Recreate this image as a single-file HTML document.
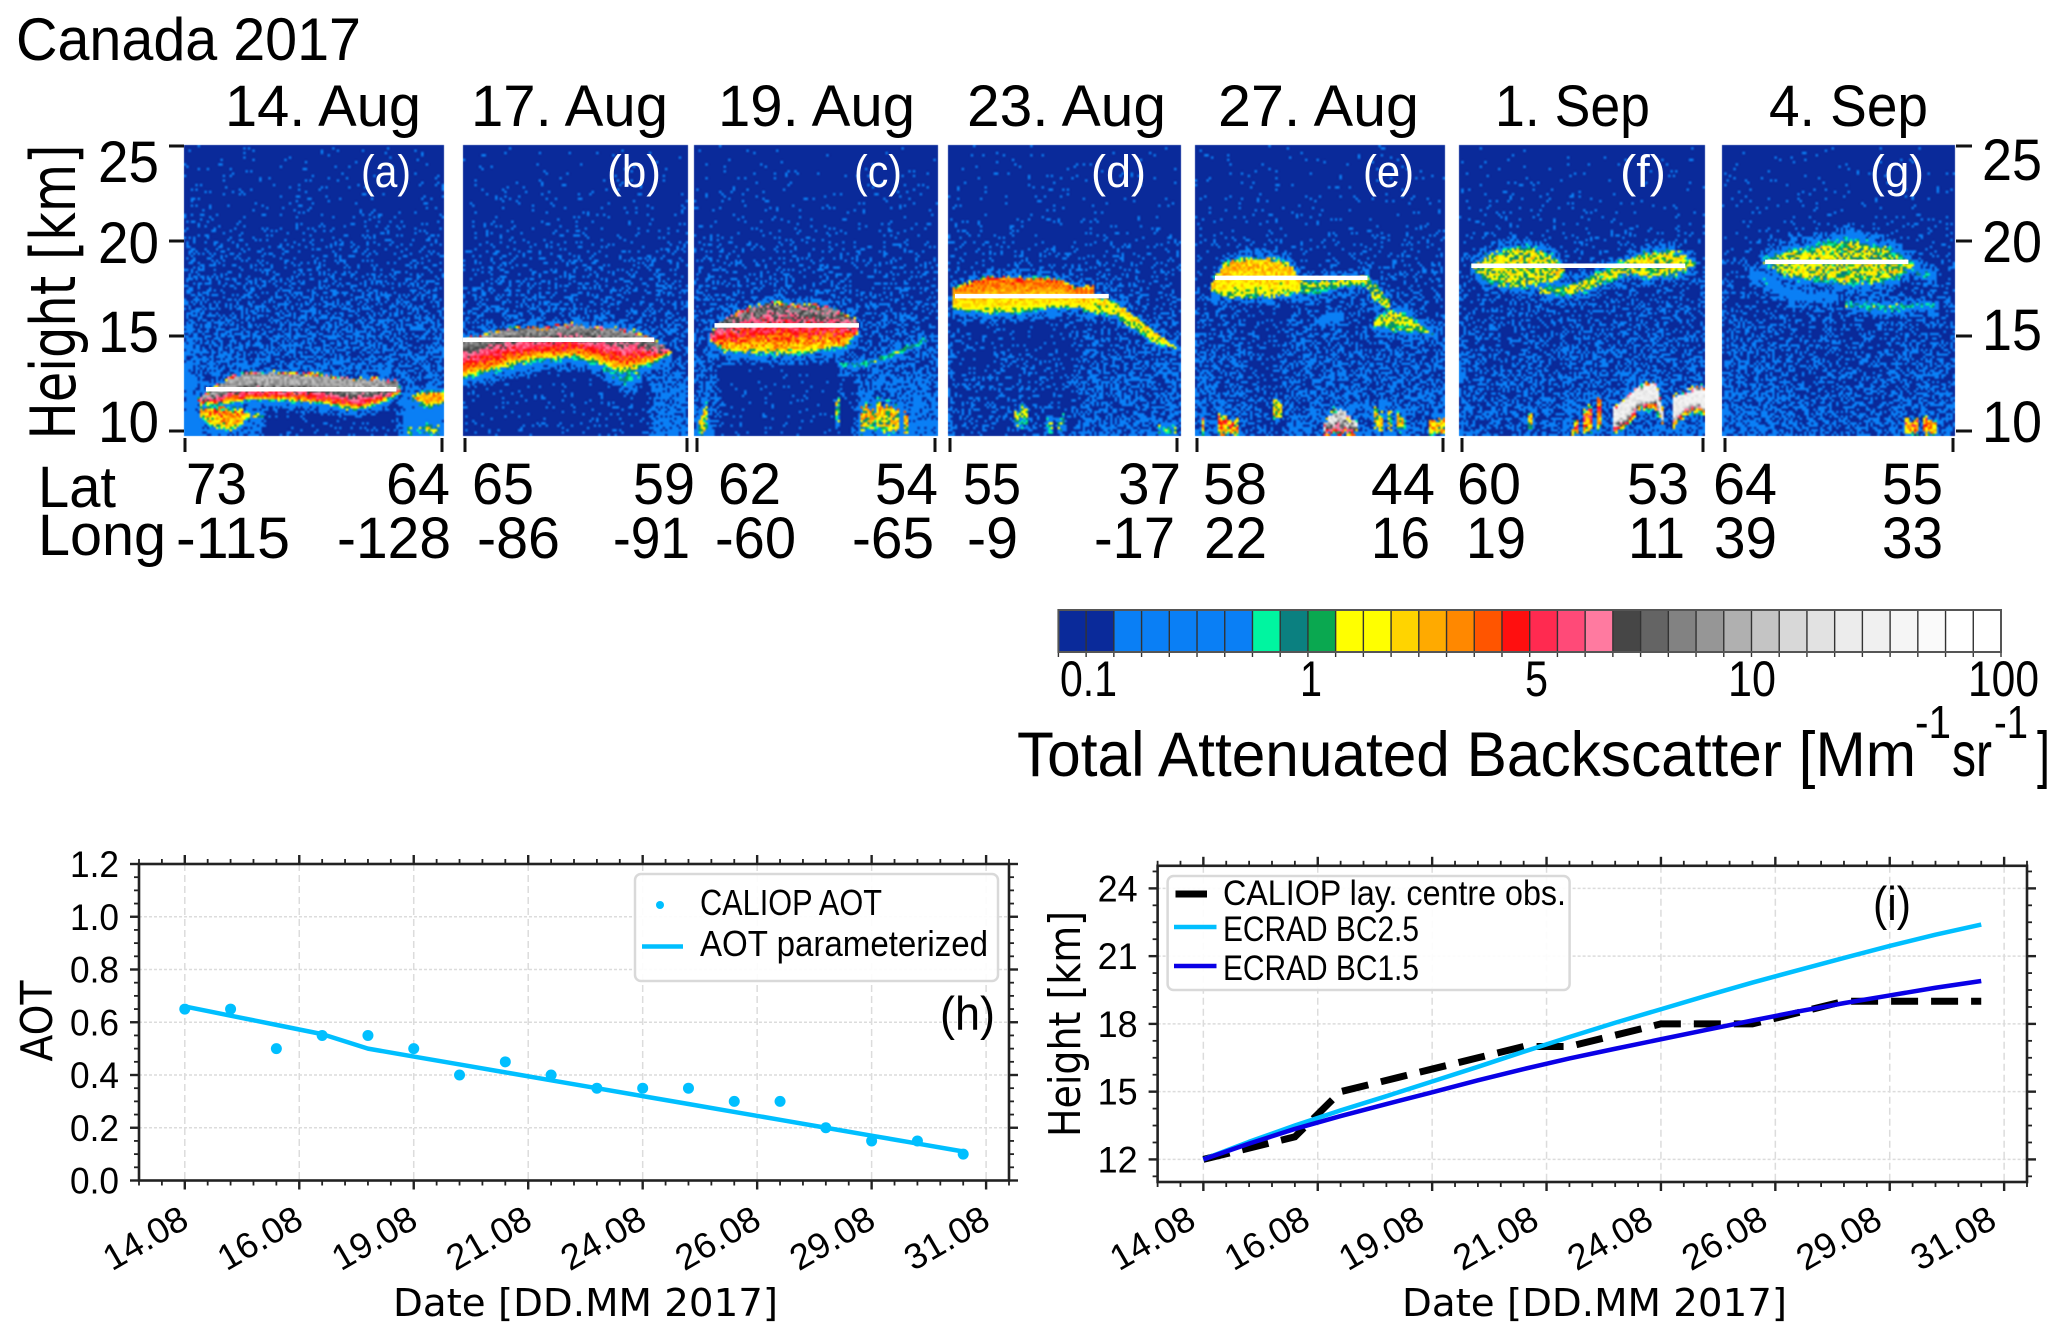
<!DOCTYPE html>
<html lang="en">
<head>
<meta charset="utf-8">
<title>Canada 2017 CALIOP backscatter</title>
<style>
html,body{margin:0;padding:0;background:#fff}
#page{position:relative;width:2067px;height:1341px;overflow:hidden;background:#fff}
#curtains,#overlay{position:absolute;left:0;top:0;width:2067px;height:1341px}
text{fill:#000;font-family:"Liberation Sans",sans-serif}
.dv{font-family:"DejaVu Sans",sans-serif}
</style>
</head>
<body>
<div id="page">
<canvas id="curtains" width="2067" height="1341"></canvas>
<svg id="overlay" width="2067" height="1341" viewBox="0 0 2067 1341" xmlns="http://www.w3.org/2000/svg">
  <g id="top-text">
    <text x="16" y="60" font-size="60" textLength="345" lengthAdjust="spacingAndGlyphs">Canada 2017</text>
    <text x="225" y="126" font-size="58" textLength="196" lengthAdjust="spacingAndGlyphs">14. Aug</text>
    <text x="471" y="126" font-size="58" textLength="197" lengthAdjust="spacingAndGlyphs">17. Aug</text>
    <text x="718" y="126" font-size="58" textLength="197" lengthAdjust="spacingAndGlyphs">19. Aug</text>
    <text x="967" y="126" font-size="58" textLength="199" lengthAdjust="spacingAndGlyphs">23. Aug</text>
    <text x="1218" y="126" font-size="58" textLength="201" lengthAdjust="spacingAndGlyphs">27. Aug</text>
    <text x="1495" y="126" font-size="58" textLength="155" lengthAdjust="spacingAndGlyphs">1. Sep</text>
    <text x="1769" y="126" font-size="58" textLength="159" lengthAdjust="spacingAndGlyphs">4. Sep</text>

    <text class="dv" transform="translate(75,292) rotate(-90)" text-anchor="middle" font-size="62" textLength="295" lengthAdjust="spacingAndGlyphs">Height [km]</text>

    <text x="98" y="182" font-size="58" textLength="61" lengthAdjust="spacingAndGlyphs">25</text>
    <text x="98" y="263" font-size="58" textLength="61" lengthAdjust="spacingAndGlyphs">20</text>
    <text x="98" y="352" font-size="58" textLength="61" lengthAdjust="spacingAndGlyphs">15</text>
    <text x="98" y="442" font-size="58" textLength="61" lengthAdjust="spacingAndGlyphs">10</text>
    <text x="1982" y="180" font-size="58" textLength="60" lengthAdjust="spacingAndGlyphs">25</text>
    <text x="1982" y="262" font-size="58" textLength="60" lengthAdjust="spacingAndGlyphs">20</text>
    <text x="1982" y="350" font-size="58" textLength="60" lengthAdjust="spacingAndGlyphs">15</text>
    <text x="1982" y="442" font-size="58" textLength="60" lengthAdjust="spacingAndGlyphs">10</text>

    <text x="38" y="507" font-size="58" textLength="78" lengthAdjust="spacingAndGlyphs">Lat</text>
    <text x="38" y="555" font-size="58" textLength="128" lengthAdjust="spacingAndGlyphs">Long</text>

    <g font-size="58">
      <text x="186" y="504" textLength="61" lengthAdjust="spacingAndGlyphs">73</text>
      <text x="386" y="504" textLength="64" lengthAdjust="spacingAndGlyphs">64</text>
      <text x="472" y="504" textLength="62" lengthAdjust="spacingAndGlyphs">65</text>
      <text x="633" y="504" textLength="62" lengthAdjust="spacingAndGlyphs">59</text>
      <text x="718" y="504" textLength="63" lengthAdjust="spacingAndGlyphs">62</text>
      <text x="875" y="504" textLength="63" lengthAdjust="spacingAndGlyphs">54</text>
      <text x="963" y="504" textLength="58" lengthAdjust="spacingAndGlyphs">55</text>
      <text x="1118" y="504" textLength="63" lengthAdjust="spacingAndGlyphs">37</text>
      <text x="1203" y="504" textLength="64" lengthAdjust="spacingAndGlyphs">58</text>
      <text x="1371" y="504" textLength="64" lengthAdjust="spacingAndGlyphs">44</text>
      <text x="1457" y="504" textLength="64" lengthAdjust="spacingAndGlyphs">60</text>
      <text x="1627" y="504" textLength="62" lengthAdjust="spacingAndGlyphs">53</text>
      <text x="1713" y="504" textLength="64" lengthAdjust="spacingAndGlyphs">64</text>
      <text x="1882" y="504" textLength="61" lengthAdjust="spacingAndGlyphs">55</text>
    </g>
    <g font-size="58">
      <text x="176" y="558" textLength="114" lengthAdjust="spacingAndGlyphs">-115</text>
      <text x="337" y="558" textLength="114" lengthAdjust="spacingAndGlyphs">-128</text>
      <text x="477" y="558" textLength="83" lengthAdjust="spacingAndGlyphs">-86</text>
      <text x="613" y="558" textLength="77" lengthAdjust="spacingAndGlyphs">-91</text>
      <text x="715" y="558" textLength="81" lengthAdjust="spacingAndGlyphs">-60</text>
      <text x="852" y="558" textLength="82" lengthAdjust="spacingAndGlyphs">-65</text>
      <text x="967" y="558" textLength="51" lengthAdjust="spacingAndGlyphs">-9</text>
      <text x="1094" y="558" textLength="81" lengthAdjust="spacingAndGlyphs">-17</text>
      <text x="1204" y="558" textLength="63" lengthAdjust="spacingAndGlyphs">22</text>
      <text x="1371" y="558" textLength="59" lengthAdjust="spacingAndGlyphs">16</text>
      <text x="1466" y="558" textLength="60" lengthAdjust="spacingAndGlyphs">19</text>
      <text x="1628" y="558" textLength="57" lengthAdjust="spacingAndGlyphs">11</text>
      <text x="1714" y="558" textLength="63" lengthAdjust="spacingAndGlyphs">39</text>
      <text x="1882" y="558" textLength="61" lengthAdjust="spacingAndGlyphs">33</text>
    </g>

    <path stroke="#111" stroke-width="3" fill="none" d="M185 438V452M442 438V452M465 438V452M687 438V452M697 438V452M935 438V452M950 438V452M1177 438V452M1197 438V452M1443 438V452M1462 438V452M1703 438V452M1725 438V452M1953 438V452"/>

    <g font-size="50">
      <text x="1060" y="696" textLength="57" lengthAdjust="spacingAndGlyphs">0.1</text>
      <text x="1300" y="696" textLength="22" lengthAdjust="spacingAndGlyphs">1</text>
      <text x="1525" y="696" textLength="23" lengthAdjust="spacingAndGlyphs">5</text>
      <text x="1728" y="696" textLength="48" lengthAdjust="spacingAndGlyphs">10</text>
      <text x="1968" y="696" textLength="71" lengthAdjust="spacingAndGlyphs">100</text>
    </g>
    <g>
      <text x="1017" y="776" font-size="63" textLength="899" lengthAdjust="spacingAndGlyphs">Total Attenuated Backscatter [Mm</text>
      <text x="1915" y="738" font-size="46" textLength="36" lengthAdjust="spacingAndGlyphs">-1</text>
      <text x="1952" y="776" font-size="63" textLength="40" lengthAdjust="spacingAndGlyphs">sr</text>
      <text x="1994" y="738" font-size="46" textLength="34" lengthAdjust="spacingAndGlyphs">-1</text>
      <text x="2037" y="776" font-size="63" textLength="13" lengthAdjust="spacingAndGlyphs">]</text>
    </g>
  </g>
  <g id="curtain-marks"></g>
  <g id="colorbar"></g>
  <g id="chart-h"></g>
  <g id="chart-i"></g>
</svg>
</div>
<script>
/* ---------- chart values ---------- */
const sampleDays = [0,1,2,3,4,5,6,7,8,9,10,11,12,13,14,15,16,17];
const caliopAot = [0.65,0.65,0.5,0.55,0.55,0.5,0.4,0.45,0.4,0.35,0.35,0.35,0.3,0.3,0.2,0.15,0.15,0.1];
const aotParameterized = [0.66,0.625,0.59,0.555,0.5,0.47,0.44,0.41,0.38,0.35,0.32,0.29,0.26,0.23,0.2,0.17,0.14,0.11];
const caliopHeight = [12,12.5,13,15,15.5,16,16.5,17,17,17.5,18,18,18,18.5,19,19,19,19];
const ecradBc25 = [12,12.78,13.5,14.17,14.8,15.45,16.1,16.77,17.42,18.05,18.65,19.25,19.83,20.38,20.92,21.45,21.95,22.4];
const ecradBc15 = [12,12.7,13.35,13.92,14.45,14.97,15.5,16,16.47,16.9,17.32,17.74,18.15,18.55,18.92,19.26,19.6,19.9];
const dateTickDays = [0,2.5,5,7.5,10,12.5,15,17.5];
const dateTickLabels = ["14.08","16.08","19.08","21.08","24.08","26.08","29.08","31.08"];
const aotTicks = [0,0.2,0.4,0.6,0.8,1.0,1.2];
const aotTickLabels = ["0.0","0.2","0.4","0.6","0.8","1.0","1.2"];
const heightTicks = [12,15,18,21,24];
const heightTickLabels = ["12","15","18","21","24"];
const curtainHeightTicks = [10,15,20,25];
const panelLetters = ["(a)","(b)","(c)","(d)","(e)","(f)","(g)"];
const layerKm = [12.2,14.8,15.56,17.1,18.06,18.7,18.9];
const layerStart = [0.084,0,0.084,0.03,0.08,0.05,0.185];
const layerEnd = [0.817,0.85,0.676,0.69,0.69,0.92,0.80];
const cbarColors = ["#0a2a9a","#0a2a9a","#0a7ff5","#0a7ff5","#0a7ff5","#0a7ff5","#0a7ff5","#00f5a0","#0b8080","#0aa850","#ffff00","#ffff00","#ffd400","#ffaa00","#ff8800","#ff5500","#ff0f0f","#ff2a50","#ff4a78","#ff7aa0","#464646","#646464","#828282","#969696","#b0b0b0","#c4c4c4","#d8d8d8","#e2e2e2","#ececec","#f0f0f0","#f5f5f5","#fafafa","#ffffff","#ffffff"];

/* background speckle density against height (ascending km) */
const densityKm = [10,13,16,19,21,25];
const densityVal = [0.6,0.43,0.28,0.14,0.05,0.015];
const densityMult = [1.35,1.1,1.1,1,1.05,1.05,1.05];

/* aerosol / cloud layers as read from each curtain: fraction along track, top km, bottom km, colour index at top / bottom */
const layersA = [
 {x:[.05,.12,.18,.26,.4,.55,.65,.75,.82,.835],top:[11.7,12.4,12.9,13.2,13.1,13.0,12.8,12.8,12.7,12.3],bot:[11.3,11.2,11.3,11.4,11.4,11.2,10.9,11.2,11.7,12.0],pt:24,pb:10,core:.38,et:.12,eb:.35,noise:3,fz:.2},
 {x:[.06,.13,.2,.24,.31],top:[11.3,11.4,11.3,11.2,10.9],bot:[10.6,9.9,9.9,10.5,10.6],pt:16,pb:10,core:.1,et:.3,eb:.3,noise:5,fz:.3},
 {x:[.88,.94,1],top:[12.0,12.2,12.2],bot:[11.5,11.0,11.3],pt:15,pb:10,core:.2,et:.25,eb:.3,noise:4,fz:.2},
 {x:[.86,.98],top:[10.4,10.6],bot:[9.7,9.7],pt:11,pb:7,core:.2,et:.3,eb:.1,noise:9,fz:.4}
];
const layersB = [
 {x:[0,.1,.2,.35,.5,.6,.7,.8,.85,.93],top:[14.9,15.2,15.45,15.5,15.7,15.5,15.4,15.2,14.9,14.2],bot:[12.4,12.7,13.0,13.4,13.5,13.2,12.7,13.0,13.2,13.9],pt:23,pb:9.5,core:.15,et:.12,eb:.6,noise:3.2,fz:.25},
 {x:[.62,.72,.8],top:[13.6,13.3,13.4],bot:[13,12.2,12.6],pt:9,pb:6,core:0,et:.3,eb:.3,noise:5,fz:.3}
];
const layersC = [
 {x:[.07,.12,.25,.3,.45,.55,.62,.675],top:[15.2,16.0,16.6,16.8,16.7,16.6,16.2,15.8],bot:[14.4,13.9,13.8,13.8,13.8,14.0,14.1,14.9],pt:21.5,pb:10,core:.15,et:.12,eb:.45,noise:4.5,fz:.25},
 {x:[.59,.72,.8,.95],top:[13.65,13.75,14.15,14.95],bot:[13.25,13.35,13.7,14.55],pt:10,pb:7,core:.1,et:.15,eb:.15,noise:4,fz:.15},
 {x:[.02,.05,.08],top:[10.8,11.9,11.7],bot:[9.8,9.8,10.9],pt:12,pb:9,core:.1,et:.2,eb:.2,noise:10,fz:.3},
 {x:[.58,.6],top:[11.8,11.8],bot:[10.4,10.4],pt:11,pb:8,core:.1,et:.2,eb:.2,noise:7,fz:.2},
 {x:[.68,.72,.8,.9],top:[11.8,11.8,11.8,11.2],bot:[9.8,10.0,9.8,9.8],pt:13,pb:10,core:.1,et:.2,eb:.2,noise:16,fz:.5}
];
const layersD = [
 {x:[.02,.18,.36,.46,.55,.63],top:[17.6,18.2,18.1,18.1,17.6,17.7],bot:[16.2,16.0,16.1,16.3,16.3,16.2],pt:15.5,pb:10,core:.05,et:.12,eb:.3,noise:2.6,fz:.18},
 {x:[.58,.72,.8,.88,.98],top:[17.3,16.85,16.15,15.35,14.45],bot:[16.2,15.95,15.25,14.55,14.25],pt:12,pb:10,core:.2,et:.12,eb:.15,noise:3.4,fz:.15},
 {x:[.28,.34],top:[11.6,11.6],bot:[10.2,10.2],pt:10,pb:8,core:.1,et:.2,eb:.2,noise:10,fz:.3},
 {x:[.42,.5],top:[10.9,10.9],bot:[9.8,9.8],pt:9,pb:7,core:.1,et:.2,eb:.2,noise:10,fz:.3},
 {x:[.9,.98],top:[10.5,10.5],bot:[9.8,9.8],pt:9,pb:7,core:.1,et:.2,eb:.2,noise:10,fz:.3}
];
const layersE = [
 {x:[.06,.12,.2,.3,.38,.42],top:[17.8,19.0,19.25,19.25,18.9,18.2],bot:[17.2,16.95,16.9,16.9,17.0,17.1],pt:13,pb:10.5,core:.2,et:.25,eb:.25,noise:3.6,fz:.25},
 {x:[.4,.5,.6,.68,.72,.78],top:[18,17.95,18.15,18.3,17.8,16.95],bot:[17.1,17.2,17.5,17.5,16.7,16.25],pt:10.5,pb:9.5,core:.3,et:.15,eb:.2,noise:4.5,fz:.2},
 {x:[.72,.78,.85,.94,.97],top:[16.15,16.45,16.3,15.4,15.1],bot:[15.35,15.2,15.1,15,14.95],pt:11,pb:9,core:.3,et:.25,eb:.2,noise:5,fz:.2},
 {x:[.48,.6],top:[15.9,16.3],bot:[15.6,16.0],pt:6,pb:6,core:0,et:.1,eb:.1,noise:2,fz:.15},
 {x:[.03,.1,.17],top:[11.1,10.9,10.9],bot:[9.7,9.7,9.7],pt:15,pb:12,core:.1,et:.2,eb:.2,noise:18,fz:.4},
 {x:[.31,.35],top:[11.8,11.8],bot:[10.6,10.6],pt:13,pb:10,core:.1,et:.2,eb:.2,noise:10,fz:.2},
 {x:[.5,.54,.58,.65],top:[10.4,11,11.5,10.8],bot:[9.7,9.7,9.7,9.7],pt:27,pb:14,core:.35,et:.2,eb:.25,noise:6,fz:.4},
 {x:[.72,.85],top:[11.3,11.1],bot:[10,10],pt:12,pb:10,core:.1,et:.2,eb:.2,noise:20,fz:.4},
 {x:[.92,1],top:[10.9,10.9],bot:[9.7,9.7],pt:14,pb:11,core:.1,et:.2,eb:.2,noise:18,fz:.3}
];
const layersF = [
 {x:[.05,.11,.23,.34,.41,.43],top:[18.9,19.4,19.9,19.7,19.1,18.6],bot:[18.5,17.6,17.3,17.5,17.7,18.2],pt:11,pb:10.5,core:.3,et:.35,eb:.35,noise:5,fz:.3},
 {x:[.33,.42,.49,.59,.67],top:[17.7,17.8,18,18.6,19.1],bot:[17.1,16.95,17.1,17.6,18.0],pt:10.5,pb:10,core:.3,et:.25,eb:.25,noise:5,fz:.25},
 {x:[.62,.76,.88,.96],top:[18.9,19.5,19.6,19.1],bot:[18.2,17.9,18.1,18.5],pt:11,pb:10.5,core:.3,et:.25,eb:.25,noise:5,fz:.3},
 {x:[.28,.32],top:[11.4,11.4],bot:[9.9,9.9],pt:13,pb:10,core:.1,et:.2,eb:.2,noise:14,fz:.3},
 {x:[.46,.5,.56,.6],top:[10.4,11.2,12.0,11.8],bot:[9.7,9.7,9.9,10.4],pt:16,pb:12,core:.2,et:.2,eb:.2,noise:14,fz:.35},
 {x:[.63,.68,.73,.8,.83],top:[11.3,11.9,12.5,12.6,11.2],bot:[9.7,10.0,10.9,11.0,10.0],pt:29,pb:11,core:.55,et:.2,eb:.4,noise:4,fz:.3},
 {x:[.87,.92,.97,1],top:[11.8,12.2,12.4,12.3],bot:[9.9,10.6,10.8,10.6],pt:29,pb:11,core:.55,et:.2,eb:.5,noise:4,fz:.3}
];
const layersG = [
 {x:[.17,.29,.55,.72,.83,.86],top:[19.3,19.8,20.4,19.9,19.0,18.7],bot:[18.7,17.8,17.4,17.6,18.4,18.6],pt:10.5,pb:10.5,core:.3,et:.5,eb:.45,noise:5.5,fz:.3},
 {x:[.53,.7,.93],top:[16.9,16.8,16.8],bot:[16.4,16.2,16.4],pt:8.5,pb:7.5,core:.1,et:.2,eb:.2,noise:5,fz:.25},
 {x:[.12,.24,.3,.5],top:[18.7,17.9,17.5,17.2],bot:[18.1,17.1,16.8,16.7],pt:6,pb:5,core:0,et:.2,eb:.2,noise:4,fz:.3},
 {x:[.83,.9,.92],top:[18.6,18.5,18.2],bot:[18.0,17.8,17.9],pt:7,pb:6,core:0,et:.2,eb:.2,noise:4,fz:.2},
 {x:[.78,.85,.92],top:[10.6,11.0,10.6],bot:[9.7,9.7,9.7],pt:15,pb:12,core:.1,et:.2,eb:.2,noise:11,fz:.3}
];
const curtainLayers = [layersA,layersB,layersC,layersD,layersE,layersF,layersG];

/* regions dimmed by attenuation below thick layers: x from, x to, upper km, factor */
const shadowsA = [[.3,.83,11.6,.12],[.83,1,12,1.35],[0,.05,25,1.6]];
const shadowsB = [[.0,.83,13.5,.1],[.83,1,13,1.3]];
const shadowsC = [[.1,.66,14.2,.1],[.66,1,13,1.35]];
const shadowsD = [[.02,.56,16.3,.4]];
const shadowsE = [[.2,.36,17,.45]];
const shadowsF = [[.05,.42,17,.75]];
const shadowsG = [[.3,.72,16.3,.7]];
const curtainShadows = [shadowsA,shadowsB,shadowsC,shadowsD,shadowsE,shadowsF,shadowsG];

/* ---------- layout ---------- */
const SVG_NS = "http://www.w3.org/2000/svg";
const panelLeft = [184,463,694,948,1195,1459,1722];
const panelRight = [444,688,938,1181,1445,1705,1955];
const panelTop = 145, panelBottom = 436;
const curtainY = km => 431 - (km - 10) * 19;
const curtainKm = py => 10 + (431 - py) / 19;

function mk(tag, attrs, parent, text){
  const el = document.createElementNS(SVG_NS, tag);
  for (const k in attrs) el.setAttribute(k, attrs[k]);
  if (text !== undefined) el.textContent = text;
  if (parent) parent.appendChild(el);
  return el;
}
function interp(xs, ys, x){
  if (x <= xs[0]) return ys[0];
  for (let i = 1; i < xs.length; i++){
    if (x <= xs[i]) return ys[i-1] + (ys[i]-ys[i-1]) * (x-xs[i-1]) / (xs[i]-xs[i-1]);
  }
  return ys[ys.length-1];
}
function grain(a, b, s){
  const v = Math.sin(a*12.9898 + b*78.233 + s*37.719) * 43758.5453;
  return v - Math.floor(v);
}
function hexRgb(h){ return [parseInt(h.slice(1,3),16),parseInt(h.slice(3,5),16),parseInt(h.slice(5,7),16)]; }

/* ---------- curtains ---------- */
function drawCurtains(){
  const ctx = document.getElementById("curtains").getContext("2d");
  const rgb = cbarColors.map(hexRgb);
  const cell = 2.3;
  panelLeft.forEach((left, p) => {
    const w = panelRight[p]-left, h = panelBottom-panelTop;
    const W = Math.ceil(w/cell), H = Math.ceil(h/cell);
    const off = document.createElement("canvas");
    off.width = W; off.height = H;
    const octx = off.getContext("2d");
    const img = octx.createImageData(W,H);
    for (let j=0;j<H;j++){
      const km = curtainKm(panelTop + (j+.5)*h/H);
      for (let i=0;i<W;i++){
        const frac = (i+.5)/W;
        const n0 = grain(i,j,p+1), n1 = grain(i,j,p+11), n2 = grain(i,j,p+21), n3 = grain(i,j,p+31);
        let d = interp(densityKm,densityVal,km) * densityMult[p];
        const fj = frac + (n1-.5)*.035;
        for (const s of curtainShadows[p]){
          if (fj>=s[0] && fj<=s[1] && km<=s[2]) d *= s[3];
        }
        let idx = 0;
        let halo = false;
        for (const l of curtainLayers[p]){
          if (frac < l.x[0] || frac > l.x[l.x.length-1]) continue;
          let t = interp(l.x,l.top,frac);
          const b = interp(l.x,l.bot,frac);
          const patchy = l.noise >= 6;
          if (patchy){
            const col = Math.floor(i/2);
            if (grain(col,3,p+41) < .2) continue;
            t -= grain(col,7,p+51) * (t-b) * .3;
          }
          const dT = t-km+(n1-.5)*l.fz, dB = km-b+(n2-.5)*l.fz;
          if (!patchy && dT>-.32 && dB>-.32) halo = true;
          if (dT<0 || dB<0) continue;
          const rel = Math.min(1,Math.max(0,dT/(t-b)));
          const r2 = Math.max(0,(rel-l.core)/(1-l.core));
          const base = l.pt + (l.pb-l.pt)*r2;
          const e = Math.min(1,dT/l.et,dB/l.eb);
          const v = 2 + (base-2)*e + (n3-.5)*Math.min(l.noise,7)*(.4+.6*e);
          idx = Math.max(idx,v);
        }
        if (halo) d = Math.max(d,.55);
        if (n0 < d) idx = Math.max(idx,3);
        const c = rgb[Math.max(0,Math.min(33,Math.floor(idx)))];
        const o = (j*W+i)*4;
        img.data[o]=c[0]; img.data[o+1]=c[1]; img.data[o+2]=c[2]; img.data[o+3]=255;
      }
    }
    octx.putImageData(img,0,0);
    ctx.imageSmoothingEnabled = true;
    ctx.imageSmoothingQuality = "high";
    ctx.drawImage(off,left,panelTop,w,h);
  });
}
drawCurtains();

/* ---------- overlay marks for curtains ---------- */
const curtainMarks = document.getElementById("curtain-marks");
layerKm.forEach((km,i) => {
  const w = panelRight[i]-panelLeft[i];
  const line = mk("line",{x1:panelLeft[i]+layerStart[i]*w,x2:panelLeft[i]+layerEnd[i]*w,y1:curtainY(km),y2:curtainY(km),stroke:"#fff","stroke-width":4.5},curtainMarks);
  
  
});
const letterX = [361,607,854,1091,1363,1620,1870];
const letterW = [50,54,48,55,51,46,54];
panelLetters.forEach((s,i) => {
  const t = mk("text",{x:letterX[i],y:187,"font-size":45,textLength:letterW[i],lengthAdjust:"spacingAndGlyphs"},curtainMarks,s);
  t.style.fill = "#fff";
  
  
});
curtainHeightTicks.forEach(v => {
  const l = mk("line",{x1:169,x2:184,y1:curtainY(v),y2:curtainY(v),stroke:"#111","stroke-width":3},curtainMarks);
  
  
  const r = mk("line",{x1:1956,x2:1972,y1:curtainY(v),y2:curtainY(v),stroke:"#111","stroke-width":3},curtainMarks);
  
  
});

/* ---------- colorbar ---------- */
const cbar = document.getElementById("colorbar");
const cbX0 = 1058.4, cbX1 = 2001, cbY0 = 610, cbY1 = 652;
const cbW = (cbX1-cbX0)/cbarColors.length;
cbarColors.forEach((c,i) => {
  const r = mk("rect",{x:cbX0+i*cbW,y:cbY0,width:cbW+.3,height:cbY1-cbY0,fill:c},cbar);
  
  
});
for (let i=0;i<=cbarColors.length;i++){
  const l = mk("line",{x1:cbX0+i*cbW,x2:cbX0+i*cbW,y1:cbY0,y2:cbY1+5,stroke:"#333","stroke-width":1.4},cbar);
  
  
}
const cbBorder = mk("rect",{x:cbX0,y:cbY0,width:cbX1-cbX0,height:cbY1-cbY0,fill:"none",stroke:"#555","stroke-width":2},cbar);



/* ---------- line charts ---------- */
function buildAxes(g, a){
  const x = d => a.left + (d-a.dMin)*(a.right-a.left)/(a.dMax-a.dMin);
  const y = v => a.bottom - (v-a.vMin)*(a.bottom-a.top)/(a.vMax-a.vMin);
  const bg = mk("rect",{x:a.left,y:a.top,width:a.right-a.left,height:a.bottom-a.top,fill:"#fff"},g);
  
  
  dateTickDays.forEach(d => {
    const l = mk("line",{x1:x(d),x2:x(d),y1:a.top,y2:a.bottom,stroke:"#dcdcdc","stroke-width":1.5,"stroke-dasharray":"7 4"},g);
    
    
  });
  a.ticks.forEach(v => {
    const l = mk("line",{x1:a.left,x2:a.right,y1:y(v),y2:y(v),stroke:"#dcdcdc","stroke-width":1.5,"stroke-dasharray":"3 2"},g);
    
    
  });
  for (let d=a.dMin; d<=a.dMax+.01; d+=.5){
    const major = dateTickDays.includes(d);
    const len = major ? 9 : 5;
    const b = mk("line",{x1:x(d),x2:x(d),y1:a.bottom,y2:a.bottom+len,stroke:"#222","stroke-width":major?2.4:1.8},g);
    
    
    const t = mk("line",{x1:x(d),x2:x(d),y1:a.top,y2:a.top-len,stroke:"#222","stroke-width":major?2.4:1.8},g);
    
    
  }
  for (let v=a.ticks[0]-a.minorStep*Math.floor((a.ticks[0]-a.vMin)/a.minorStep+1e-6); v<=a.vMax+1e-6; v+=a.minorStep){
    const major = a.ticks.some(q => Math.abs(q-v)<1e-6);
    const len = major ? 9 : 5;
    const l = mk("line",{x1:a.left,x2:a.left-len,y1:y(v),y2:y(v),stroke:"#222","stroke-width":major?2.4:1.8},g);
    
    
    const r = mk("line",{x1:a.right,x2:a.right+len,y1:y(v),y2:y(v),stroke:"#222","stroke-width":major?2.4:1.8},g);
    
    
  }
  const frame = mk("rect",{x:a.left,y:a.top,width:a.right-a.left,height:a.bottom-a.top,fill:"none",stroke:"#222","stroke-width":2.6},g);
  
  
  a.tickLabels.forEach((s,i) => {
    const t = mk("text",{x:a.left-20,y:y(a.ticks[i])+13,"text-anchor":"end","font-size":37,textLength:a.tickLabelW,lengthAdjust:"spacingAndGlyphs"},g,s);
    
    
  });
  dateTickLabels.forEach((s,i) => {
    const px = x(dateTickDays[i])+a.labelDx;
    const t = mk("text",{transform:"translate("+px+",1226) rotate(-30)","text-anchor":"end","font-size":36,textLength:91,lengthAdjust:"spacingAndGlyphs"},g,s);
    
    
  });
  return {x,y};
}
function pathFor(sc, xs, ys){
  return xs.map((d,i) => (i?"L":"M")+sc.x(d).toFixed(2)+" "+sc.y(ys[i]).toFixed(2)).join("");
}

/* chart h */
const gh = document.getElementById("chart-h");
const scH = buildAxes(gh,{left:139,right:1009,top:864,bottom:1180.5,dMin:-1,dMax:18,vMin:0,vMax:1.2,ticks:aotTicks,tickLabels:aotTickLabels,tickLabelW:49,minorStep:.05,labelDx:6});
const paramLine = mk("path",{d:pathFor(scH,sampleDays,aotParameterized),fill:"none",stroke:"#00bfff","stroke-width":4.5,"stroke-linejoin":"round"},gh);


sampleDays.forEach((d,i) => {
  const c = mk("circle",{cx:scH.x(d),cy:scH.y(caliopAot[i]),r:5.5,fill:"#00bfff"},gh);
  
  
});
const legH = mk("g",{},gh);


const legHBox = mk("rect",{x:635,y:874,width:363,height:107,rx:6,fill:"#fff","fill-opacity":.9,stroke:"#d9d9d9","stroke-width":2.5},legH);


const legHDot = mk("circle",{cx:660,cy:905,r:4,fill:"#00bfff"},legH);


const legHLine = mk("line",{x1:642,x2:683,y1:946.5,y2:946.5,stroke:"#00bfff","stroke-width":4.5},legH);


const legHT1 = mk("text",{x:700,y:915,"font-size":36,textLength:182,lengthAdjust:"spacingAndGlyphs"},legH,"CALIOP AOT");


const legHT2 = mk("text",{x:700,y:956,"font-size":36,textLength:288,lengthAdjust:"spacingAndGlyphs"},legH,"AOT parameterized");


const hLetter = mk("text",{x:940,y:1030,"font-size":47,textLength:55,lengthAdjust:"spacingAndGlyphs"},gh,"(h)");


const hYTitle = mk("text",{transform:"translate(52,1021) rotate(-90)","text-anchor":"middle","font-size":44,textLength:81,lengthAdjust:"spacingAndGlyphs",class:"dv"},gh,"AOT");


const hXTitle = mk("text",{x:393,y:1316,"font-size":38,textLength:385,lengthAdjust:"spacingAndGlyphs",class:"dv"},gh,"Date [DD.MM 2017]");



/* chart i */
const gi = document.getElementById("chart-i");
const scI = buildAxes(gi,{left:1157.6,right:2027,top:865.8,bottom:1182,dMin:-1,dMax:18,vMin:11,vMax:25,ticks:heightTicks,tickLabels:heightTickLabels,tickLabelW:40,minorStep:.75,labelDx:-5.5});
const obsLine = mk("path",{d:pathFor(scI,sampleDays,caliopHeight),fill:"none",stroke:"#000","stroke-width":7,"stroke-dasharray":"27 13"},gi);


const bc25Line = mk("path",{d:pathFor(scI,sampleDays,ecradBc25),fill:"none",stroke:"#00bfff","stroke-width":4.5,"stroke-linejoin":"round"},gi);


const bc15Line = mk("path",{d:pathFor(scI,sampleDays,ecradBc15),fill:"none",stroke:"#0a00e6","stroke-width":4.5,"stroke-linejoin":"round"},gi);


const legI = mk("g",{},gi);


const legIBox = mk("rect",{x:1167.6,y:876,width:402,height:114,rx:6,fill:"#fff","fill-opacity":.9,stroke:"#d9d9d9","stroke-width":2.5},legI);


const legI1 = mk("line",{x1:1175.5,x2:1207,y1:894,y2:894,stroke:"#000","stroke-width":7},legI);


const legI2 = mk("line",{x1:1174,x2:1216.5,y1:927,y2:927,stroke:"#00bfff","stroke-width":4.5},legI);


const legI3 = mk("line",{x1:1174,x2:1216.5,y1:966,y2:966,stroke:"#0a00e6","stroke-width":4.5},legI);


const legIT1 = mk("text",{x:1223,y:905,"font-size":35,textLength:343,lengthAdjust:"spacingAndGlyphs"},legI,"CALIOP lay. centre obs.");


const legIT2 = mk("text",{x:1223,y:941,"font-size":35,textLength:196,lengthAdjust:"spacingAndGlyphs"},legI,"ECRAD BC2.5");


const legIT3 = mk("text",{x:1223,y:980,"font-size":35,textLength:196,lengthAdjust:"spacingAndGlyphs"},legI,"ECRAD BC1.5");


const iLetter = mk("text",{x:1873,y:920,"font-size":47,textLength:38,lengthAdjust:"spacingAndGlyphs"},gi,"(i)");


const iYTitle = mk("text",{transform:"translate(1080,1024) rotate(-90)","text-anchor":"middle","font-size":44,textLength:226,lengthAdjust:"spacingAndGlyphs",class:"dv"},gi,"Height [km]");


const iXTitle = mk("text",{x:1402,y:1316,"font-size":38,textLength:385,lengthAdjust:"spacingAndGlyphs",class:"dv"},gi,"Date [DD.MM 2017]");


</script>
</body>
</html>
